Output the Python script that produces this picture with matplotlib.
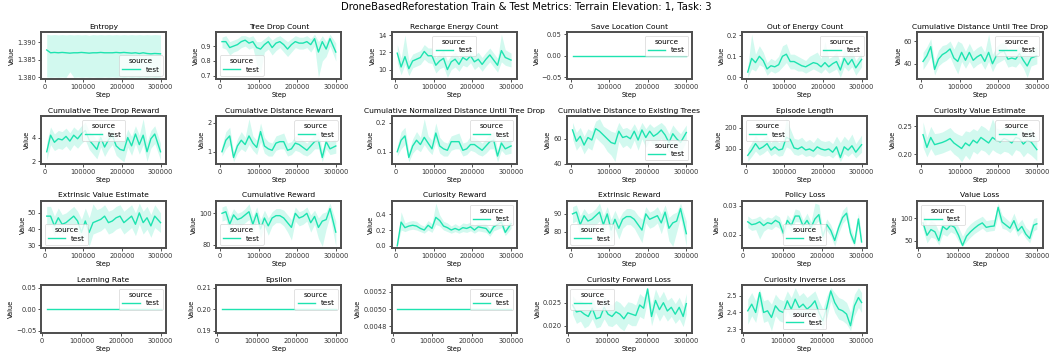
import matplotlib
matplotlib.use("Agg")
import matplotlib.pyplot as plt
from matplotlib.ticker import MultipleLocator

# ---- data ----
EVAL_STEPS = [5000, 15000, 25000, 35000, 45000, 55000, 65000, 75000, 85000, 95000,
              105000, 115000, 125000, 135000, 145000, 155000, 165000, 175000, 185000, 195000,
              205000, 215000, 225000, 235000, 245000, 255000, 265000, 275000, 285000, 300000]
LOSS_STEPS = [12000, 22000, 32000, 42000, 52000, 62000, 72000, 82000, 92000, 102000,
              112000, 122000, 132000, 142000, 152000, 162000, 172000, 182000, 192000, 202000,
              212000, 222000, 232000, 242000, 252000, 262000, 272000, 282000, 292000, 300000]
CONST_EVAL_STEPS = [5000, 300000]
CONST_LOSS_STEPS = [12000, 300000]

ENT = [1.3878, 1.3870, 1.3871, 1.3870, 1.3871, 1.3870, 1.3869, 1.3870, 1.3870, 1.3871,
       1.3870, 1.3869, 1.3870, 1.3870, 1.3871, 1.3870, 1.3870, 1.3870, 1.3871, 1.3870,
       1.3871, 1.3870, 1.3869, 1.3870, 1.3868, 1.3870, 1.3868, 1.3867, 1.3868, 1.3867]
ENT_LO = [1.3801, 1.3800, 1.3801, 1.3800, 1.3801, 1.3800, 1.3816, 1.3800, 1.3801, 1.3800,
          1.3801, 1.3800, 1.3801, 1.3800, 1.3800, 1.3801, 1.3800, 1.3801, 1.3800, 1.3801,
          1.3800, 1.3801, 1.3800, 1.3801, 1.3800, 1.3801, 1.3800, 1.3801, 1.3800, 1.3801]
ENT_HI = [1.3923, 1.3921, 1.3922, 1.3921, 1.3922, 1.3921, 1.3922, 1.3921, 1.3922, 1.3921,
          1.3922, 1.3920, 1.3922, 1.3921, 1.3922, 1.3921, 1.3922, 1.3921, 1.3922, 1.3921,
          1.3922, 1.3921, 1.3922, 1.3921, 1.3922, 1.3921, 1.3922, 1.3921, 1.3922, 1.3921]

TDC = [0.93, 0.93, 0.89, 0.90, 0.91, 0.93, 0.94, 0.92, 0.93, 0.89, 0.88, 0.91, 0.93, 0.89, 0.92,
       0.93, 0.91, 0.88, 0.91, 0.93, 0.92, 0.92, 0.93, 0.91, 0.95, 0.86, 0.93, 0.88, 0.95, 0.86]
TDC_LO = [0.89, 0.88, 0.84, 0.86, 0.87, 0.89, 0.90, 0.88, 0.89, 0.78, 0.72, 0.86, 0.88, 0.84, 0.87,
          0.89, 0.86, 0.83, 0.86, 0.89, 0.88, 0.88, 0.89, 0.86, 0.90, 0.69, 0.80, 0.83, 0.90, 0.80]
TDC_HI = [0.96, 0.97, 0.93, 0.94, 0.95, 0.97, 0.97, 0.96, 0.97, 0.93, 0.93, 0.95, 0.97, 0.94, 0.96,
          0.97, 0.95, 0.93, 0.95, 0.97, 0.96, 0.96, 0.97, 0.95, 0.98, 0.93, 0.97, 0.93, 0.98, 0.92]

REC = [11.9, 10.3, 11.5, 10.1, 11.0, 11.2, 11.4, 12.1, 11.6, 11.6, 10.5, 11.0, 11.3, 10.0, 10.9,
       11.2, 10.6, 11.4, 11.1, 11.6, 10.9, 11.2, 10.6, 11.2, 11.7, 11.1, 10.5, 12.2, 11.4, 11.1]
REC_LO = [10.8, 9.4, 10.6, 9.3, 10.2, 10.4, 10.6, 11.2, 10.8, 10.7, 9.6, 10.1, 10.3, 9.1, 10.0,
          10.3, 9.8, 10.5, 10.3, 10.8, 10.0, 10.4, 9.8, 10.4, 10.9, 10.3, 9.7, 10.9, 10.5, 10.3]
REC_HI = [12.9, 11.3, 14.0, 11.0, 11.8, 12.0, 12.2, 12.9, 12.5, 12.5, 11.4, 11.9, 12.3, 11.0, 11.7,
          12.0, 11.4, 12.3, 11.9, 12.4, 11.7, 12.0, 11.4, 12.0, 12.5, 11.9, 11.3, 14.1, 12.3, 11.9]

SAVE = [0.0, 0.0]

OOE = [0.025, 0.09, 0.07, 0.10, 0.08, 0.04, 0.055, 0.05, 0.06, 0.10, 0.11, 0.075, 0.075, 0.065, 0.055,
       0.05, 0.06, 0.07, 0.065, 0.05, 0.07, 0.05, 0.065, 0.075, 0.035, 0.09, 0.06, 0.085, 0.045, 0.085]
OOE_LO = [0.0, 0.04, 0.03, 0.06, 0.05, 0.01, 0.03, 0.02, 0.03, 0.05, 0.07, 0.04, 0.04, 0.03, 0.03,
          0.02, 0.03, 0.04, 0.03, 0.02, 0.04, 0.02, 0.03, 0.04, 0.0, 0.05, 0.03, 0.05, 0.01, 0.05]
OOE_HI = [0.05, 0.205, 0.11, 0.15, 0.12, 0.07, 0.09, 0.08, 0.10, 0.15, 0.16, 0.11, 0.11, 0.10, 0.09,
          0.08, 0.10, 0.11, 0.12, 0.09, 0.17, 0.09, 0.10, 0.12, 0.07, 0.14, 0.10, 0.13, 0.08, 0.12]

CDT = [42, 47, 55, 35, 44, 48, 50, 53, 45, 42, 50, 43, 50, 43, 46,
       48, 42, 50, 40, 47, 50, 51, 44, 45, 44, 49, 43, 38, 45, 47]
CDT_LO = [35, 40, 46, 30, 38, 41, 43, 46, 38, 31, 42, 36, 42, 36, 39,
          41, 35, 42, 33, 40, 42, 44, 37, 38, 37, 41, 36, 28, 38, 40]
CDT_HI = [50, 55, 62, 42, 52, 56, 57, 60, 53, 60, 58, 51, 58, 51, 54,
          56, 50, 66, 48, 55, 58, 59, 52, 53, 52, 57, 51, 48, 53, 55]

CTR = [2.8, 4.2, 3.6, 3.9, 3.8, 4.1, 3.7, 4.2, 3.9, 4.3, 4.6, 3.8, 3.4, 3.0, 4.0,
       3.2, 3.8, 4.2, 3.3, 3.0, 2.9, 4.0, 3.3, 4.3, 3.4, 4.2, 2.8, 3.9, 4.3, 2.8]
CTR_LO = [2.1, 3.4, 2.9, 3.1, 3.0, 3.3, 2.9, 3.4, 3.1, 3.5, 3.8, 3.0, 2.6, 2.2, 3.2,
          2.4, 3.0, 3.4, 2.5, 2.2, 1.95, 3.2, 2.5, 3.5, 2.6, 3.4, 2.0, 3.1, 3.5, 2.1]
CTR_HI = [3.6, 4.9, 4.3, 4.6, 4.5, 4.8, 4.4, 4.9, 4.6, 5.0, 5.3, 4.5, 4.2, 3.8, 4.7,
          4.0, 4.6, 4.9, 4.1, 3.8, 3.7, 4.7, 4.1, 5.0, 4.2, 5.6, 3.6, 4.6, 5.0, 3.5]

CDR = [1.0, 1.4, 1.55, 0.8, 1.2, 1.4, 1.25, 1.55, 1.3, 1.15, 1.7, 1.2, 1.1, 1.05, 1.3,
       1.35, 1.35, 1.05, 1.1, 1.3, 1.25, 1.15, 1.05, 1.2, 1.35, 1.4, 0.8, 1.35, 1.1, 1.2]
CDR_LO = [0.85, 1.1, 1.25, 0.65, 0.95, 1.1, 1.0, 1.25, 1.05, 0.9, 1.35, 0.95, 0.85, 0.85, 1.05,
          1.1, 1.1, 0.85, 0.9, 1.05, 1.0, 0.9, 0.85, 0.95, 1.1, 1.1, 0.65, 1.1, 0.9, 0.95]
CDR_HI = [1.2, 1.7, 1.85, 1.0, 1.45, 1.7, 1.5, 2.15, 1.55, 1.4, 2.0, 1.5, 1.35, 1.3, 1.55,
          1.6, 1.65, 1.3, 1.35, 1.55, 1.5, 1.4, 1.3, 1.45, 1.6, 1.7, 1.05, 1.6, 1.35, 1.45]

NDT = [0.10, 0.14, 0.155, 0.08, 0.12, 0.14, 0.125, 0.15, 0.13, 0.11, 0.165, 0.12, 0.11, 0.105, 0.135,
       0.135, 0.135, 0.105, 0.11, 0.125, 0.125, 0.115, 0.105, 0.12, 0.135, 0.14, 0.085, 0.13, 0.11, 0.12]
NDT_LO = [0.085, 0.11, 0.125, 0.065, 0.095, 0.11, 0.10, 0.125, 0.105, 0.09, 0.135, 0.095, 0.085, 0.085, 0.105,
          0.11, 0.11, 0.085, 0.09, 0.105, 0.10, 0.09, 0.085, 0.095, 0.11, 0.11, 0.065, 0.105, 0.09, 0.095]
NDT_HI = [0.12, 0.17, 0.185, 0.10, 0.145, 0.17, 0.15, 0.215, 0.155, 0.14, 0.20, 0.15, 0.135, 0.13, 0.155,
          0.16, 0.165, 0.13, 0.135, 0.155, 0.15, 0.14, 0.13, 0.145, 0.16, 0.17, 0.105, 0.16, 0.135, 0.145]

DET = [67, 58, 62, 55, 61, 59, 68, 66, 63, 60, 57, 56, 66, 61, 62,
       60, 66, 59, 67, 61, 66, 62, 64, 67, 63, 57, 64, 60, 57, 65]
DET_LO = [60, 51, 55, 48, 53, 51, 61, 58, 55, 50, 47, 42, 58, 53, 55,
          52, 59, 51, 60, 53, 59, 55, 57, 60, 56, 49, 56, 52, 49, 58]
DET_HI = [73, 65, 69, 62, 68, 66, 74, 76, 70, 68, 66, 65, 73, 68, 69,
          67, 72, 66, 73, 68, 72, 69, 71, 73, 70, 64, 71, 67, 64, 71]

EPL = [70, 95, 125, 100, 110, 125, 95, 110, 95, 100, 155, 145, 105, 100, 110,
       95, 100, 90, 110, 100, 95, 100, 85, 110, 60, 110, 95, 115, 85, 120]
EPL_LO = [42, 65, 90, 70, 80, 95, 68, 80, 66, 70, 110, 100, 75, 70, 78,
          65, 70, 62, 78, 70, 66, 70, 58, 78, 40, 78, 65, 82, 58, 85]
EPL_HI = [100, 130, 165, 135, 150, 165, 130, 150, 130, 140, 242, 195, 150, 145, 155,
          135, 145, 130, 155, 140, 135, 140, 125, 160, 130, 160, 140, 170, 125, 165]

CVE = [0.235, 0.212, 0.23, 0.217, 0.219, 0.221, 0.224, 0.228, 0.22, 0.215, 0.21, 0.22, 0.215, 0.225, 0.22,
       0.23, 0.225, 0.22, 0.23, 0.225, 0.222, 0.228, 0.225, 0.22, 0.23, 0.228, 0.218, 0.225, 0.222, 0.208]
CVE_LO = [0.212, 0.195, 0.21, 0.198, 0.2, 0.202, 0.205, 0.208, 0.2, 0.195, 0.186, 0.198, 0.19, 0.205, 0.2,
          0.208, 0.205, 0.198, 0.208, 0.203, 0.2, 0.205, 0.203, 0.197, 0.208, 0.205, 0.195, 0.203, 0.198, 0.188]
CVE_HI = [0.258, 0.23, 0.25, 0.237, 0.238, 0.24, 0.244, 0.248, 0.24, 0.236, 0.233, 0.242, 0.24, 0.246, 0.242,
          0.252, 0.248, 0.242, 0.264, 0.247, 0.244, 0.25, 0.247, 0.243, 0.252, 0.25, 0.24, 0.247, 0.245, 0.23]

EVE = [48, 48, 42, 47, 43, 44, 46, 48, 45, 38, 45, 38, 44, 45, 46,
       48, 44, 45, 47, 48, 44, 46, 48, 43, 50, 44, 47, 42, 48, 44]
EVE_LO = [42, 42, 36, 41, 37, 38, 40, 42, 39, 31, 36, 29.5, 37, 38, 39,
          41, 37, 38, 40, 41, 37, 39, 41, 36, 43, 37, 40, 35, 41, 38]
EVE_HI = [54, 54, 48, 53, 49, 50, 52, 54, 51, 46, 53, 47, 55.5, 52, 53,
          55, 51, 52, 54, 55, 51, 53, 55, 50, 56, 51, 54, 49, 55, 50]

CRW = [100, 101, 93, 99, 96, 97, 99, 101, 93, 100, 90, 97, 92, 97, 98.5,
       98.5, 97, 94, 91, 100, 97, 98, 100, 94, 98, 91, 95, 96, 103, 88]
CRW_LO = [95, 96, 87, 94, 91, 92, 94, 96, 87, 95, 84, 92, 86, 92, 94,
          94, 92, 88, 83, 95, 92, 93, 95, 88, 93, 84, 79, 90, 98, 79]
CRW_HI = [104, 105, 98, 103, 100, 101, 103, 106, 98, 104, 96, 102, 97, 101, 103,
          103, 102, 99, 96, 104, 101, 102, 104, 99, 102, 97, 100, 101, 106.5, 95]

CRD = [0.0, 0.3, 0.23, 0.25, 0.26, 0.25, 0.22, 0.2, 0.26, 0.22, 0.36, 0.32, 0.25, 0.23, 0.2,
       0.22, 0.2, 0.23, 0.22, 0.24, 0.2, 0.24, 0.23, 0.22, 0.16, 0.24, 0.27, 0.3, 0.17, 0.28]
CRD_LO = [-0.005, 0.2, 0.18, 0.2, 0.21, 0.2, 0.18, 0.16, 0.2, 0.17, 0.27, 0.25, 0.2, 0.18, 0.16,
          0.18, 0.16, 0.18, 0.17, 0.19, 0.16, 0.19, 0.18, 0.17, 0.12, 0.19, 0.21, 0.23, 0.13, 0.22]
CRD_HI = [0.01, 0.43, 0.29, 0.31, 0.32, 0.31, 0.27, 0.25, 0.32, 0.28, 0.54, 0.39, 0.31, 0.29, 0.25,
          0.28, 0.25, 0.29, 0.28, 0.3, 0.26, 0.3, 0.29, 0.28, 0.22, 0.3, 0.34, 0.38, 0.23, 0.35]

EXR = [90, 91, 84, 89, 86, 87, 89, 91, 84, 90, 81, 87, 82, 87, 88.5,
       88.5, 87, 84, 81, 90, 87, 88, 89, 85, 91, 82, 85, 86, 93, 79]
EXR_LO = [85, 86, 78, 84, 81, 82, 84, 86, 78, 85, 75, 82, 76, 82, 84,
          84, 82, 78, 74, 85, 82, 83, 85, 79, 86, 75, 72, 80, 88, 72]
EXR_HI = [94, 95, 89, 93, 90, 91, 93, 96, 89, 94, 87, 92, 87, 91, 93,
          93, 92, 89, 87, 94, 91, 92, 94, 90, 95, 88, 90, 91, 96, 86]

POL = [0.0245, 0.0235, 0.0238, 0.0245, 0.0232, 0.0242, 0.0238, 0.0250, 0.0242, 0.0205,
       0.0250, 0.0232, 0.0265, 0.0265, 0.0230, 0.0250, 0.0225, 0.0255, 0.0270, 0.0195,
       0.0235, 0.0215, 0.0180, 0.0225, 0.0260, 0.0275, 0.0205, 0.0170, 0.0255, 0.0175]
POL_LO = [0.0225, 0.0215, 0.0218, 0.0185, 0.0212, 0.0222, 0.0218, 0.0230, 0.0222, 0.0185,
          0.0230, 0.0212, 0.0245, 0.0245, 0.0210, 0.0230, 0.0205, 0.0235, 0.0250, 0.0175,
          0.0215, 0.0195, 0.0160, 0.0205, 0.0240, 0.0255, 0.0185, 0.0160, 0.0235, 0.0165]
POL_HI = [0.0265, 0.0255, 0.0258, 0.0265, 0.0252, 0.0262, 0.0258, 0.0270, 0.0262, 0.0225,
          0.0270, 0.0252, 0.0290, 0.0285, 0.0250, 0.0275, 0.0245, 0.0310, 0.0305, 0.0215,
          0.0255, 0.0235, 0.0200, 0.0245, 0.0285, 0.0300, 0.0225, 0.0190, 0.0275, 0.0195]

VAL = [90, 62, 75, 70, 50, 82, 75, 85, 80, 62, 39, 60, 70, 78, 85,
       90, 80, 82, 83, 125, 92, 85, 78, 95, 72, 82, 65, 55, 85, 88]
VAL_LO = [75, 45, 58, 55, 40, 65, 60, 70, 65, 48, 37.5, 48, 58, 66, 72,
          78, 70, 72, 73, 105, 78, 75, 68, 80, 60, 70, 55, 45, 72, 76]
VAL_HI = [115, 85, 95, 90, 70, 100, 92, 102, 97, 80, 60, 78, 88, 95, 100,
          105, 95, 97, 98, 134.5, 108, 100, 92, 112, 88, 98, 80, 72, 100, 102]

LR = [0.0, 0.0]
EPS = [0.2, 0.2]
BETA = [0.005, 0.005]

CFL = [0.0245, 0.0230, 0.0232, 0.0225, 0.0220, 0.0238, 0.0215, 0.0218, 0.0240, 0.0225,
       0.0220, 0.0230, 0.0225, 0.0215, 0.0228, 0.0225, 0.0222, 0.0245, 0.0238, 0.0280,
       0.0220, 0.0255, 0.0235, 0.0250, 0.0232, 0.0240, 0.0225, 0.0240, 0.0220, 0.0248]
CFL_LO = [0.0225, 0.0205, 0.0210, 0.0195, 0.0200, 0.0215, 0.0195, 0.0198, 0.0215, 0.0200,
          0.0198, 0.0205, 0.0195, 0.0189, 0.0205, 0.0200, 0.0200, 0.0220, 0.0215, 0.0255,
          0.0200, 0.0230, 0.0210, 0.0225, 0.0210, 0.0220, 0.0205, 0.0215, 0.0198, 0.0225]
CFL_HI = [0.0265, 0.0255, 0.0255, 0.0250, 0.0245, 0.0262, 0.0238, 0.0240, 0.0265, 0.0250,
          0.0245, 0.0255, 0.0250, 0.0240, 0.0252, 0.0250, 0.0245, 0.0270, 0.0262, 0.0283,
          0.0245, 0.0280, 0.0260, 0.0275, 0.0255, 0.0262, 0.0248, 0.0262, 0.0242, 0.0270]

CIL = [2.41, 2.45, 2.40, 2.52, 2.40, 2.41, 2.37, 2.44, 2.41, 2.40, 2.47, 2.42, 2.48, 2.43, 2.45,
       2.42, 2.44, 2.47, 2.40, 2.35, 2.43, 2.53, 2.46, 2.42, 2.41, 2.39, 2.32, 2.44, 2.49, 2.46]
CIL_LO = [2.33, 2.38, 2.34, 2.45, 2.34, 2.35, 2.29, 2.38, 2.35, 2.34, 2.41, 2.36, 2.42, 2.37, 2.39,
          2.36, 2.38, 2.41, 2.34, 2.30, 2.37, 2.47, 2.40, 2.36, 2.35, 2.33, 2.29, 2.38, 2.43, 2.40]
CIL_HI = [2.48, 2.52, 2.47, 2.54, 2.47, 2.48, 2.45, 2.51, 2.48, 2.47, 2.53, 2.49, 2.55, 2.50, 2.52,
          2.49, 2.51, 2.53, 2.47, 2.42, 2.50, 2.55, 2.52, 2.49, 2.48, 2.46, 2.40, 2.51, 2.55, 2.52]

# y tick positions shown on each panel
ENT_TICKS = [1.380, 1.385, 1.390]
TDC_TICKS = [0.7, 0.8, 0.9]
REC_TICKS = [10, 12, 14]
SAVE_TICKS = [-0.05, 0.0, 0.05]
OOE_TICKS = [0.0, 0.1, 0.2]
CDT_TICKS = [40, 60]
CTR_TICKS = [2, 4]
CDR_TICKS = [1, 2]
NDT_TICKS = [0.1, 0.2]
DET_TICKS = [40, 60]
EPL_TICKS = [100, 200]
CVE_TICKS = [0.20, 0.25]
EVE_TICKS = [30, 40, 50]
CRW_TICKS = [80, 100]
CRD_TICKS = [0.0, 0.2, 0.4]
EXR_TICKS = [80, 90]
POL_TICKS = [0.02, 0.03]
VAL_TICKS = [50, 100]
LR_TICKS = [-0.05, 0.0, 0.05]
EPS_TICKS = [0.19, 0.20, 0.21]
BETA_TICKS = [0.0048, 0.0050, 0.0052]
CFL_TICKS = [0.020, 0.025]
CIL_TICKS = [2.3, 2.4, 2.5]

COLOR = "#1ee3b0"
FIG_TITLE = "DroneBasedReforestation Train & Test Metrics: Terrain Elevation: 1, Task: 3"

# (title, steps, mean, lo, hi, y ticks, legend location)
PANELS = [
    ("Entropy", EVAL_STEPS, ENT, ENT_LO, ENT_HI, ENT_TICKS, "lower right"),
    ("Tree Drop Count", EVAL_STEPS, TDC, TDC_LO, TDC_HI, TDC_TICKS, "lower left"),
    ("Recharge Energy Count", EVAL_STEPS, REC, REC_LO, REC_HI, REC_TICKS, "upper center"),
    ("Save Location Count", CONST_EVAL_STEPS, SAVE, None, None, SAVE_TICKS, "upper right"),
    ("Out of Energy Count", EVAL_STEPS, OOE, OOE_LO, OOE_HI, OOE_TICKS, "upper right"),
    ("Cumulative Distance Until Tree Drop", EVAL_STEPS, CDT, CDT_LO, CDT_HI, CDT_TICKS, "upper right"),
    ("Cumulative Tree Drop Reward", EVAL_STEPS, CTR, CTR_LO, CTR_HI, CTR_TICKS, "upper center"),
    ("Cumulative Distance Reward", EVAL_STEPS, CDR, CDR_LO, CDR_HI, CDR_TICKS, "upper right"),
    ("Cumulative Normalized Distance Until Tree Drop", EVAL_STEPS, NDT, NDT_LO, NDT_HI, NDT_TICKS, "upper right"),
    ("Cumulative Distance to Existing Trees", EVAL_STEPS, DET, DET_LO, DET_HI, DET_TICKS, "lower right"),
    ("Episode Length", EVAL_STEPS, EPL, EPL_LO, EPL_HI, EPL_TICKS, "upper left"),
    ("Curiosity Value Estimate", EVAL_STEPS, CVE, CVE_LO, CVE_HI, CVE_TICKS, "upper right"),
    ("Extrinsic Value Estimate", EVAL_STEPS, EVE, EVE_LO, EVE_HI, EVE_TICKS, "lower left"),
    ("Cumulative Reward", EVAL_STEPS, CRW, CRW_LO, CRW_HI, CRW_TICKS, "lower left"),
    ("Curiosity Reward", EVAL_STEPS, CRD, CRD_LO, CRD_HI, CRD_TICKS, "upper right"),
    ("Extrinsic Reward", EVAL_STEPS, EXR, EXR_LO, EXR_HI, EXR_TICKS, "lower left"),
    ("Policy Loss", LOSS_STEPS, POL, POL_LO, POL_HI, POL_TICKS, "lower center"),
    ("Value Loss", LOSS_STEPS, VAL, VAL_LO, VAL_HI, VAL_TICKS, "upper left"),
    ("Learning Rate", CONST_LOSS_STEPS, LR, None, None, LR_TICKS, "upper right"),
    ("Epsilon", CONST_LOSS_STEPS, EPS, None, None, EPS_TICKS, "upper right"),
    ("Beta", CONST_LOSS_STEPS, BETA, None, None, BETA_TICKS, "upper right"),
    ("Curiosity Forward Loss", LOSS_STEPS, CFL, CFL_LO, CFL_HI, CFL_TICKS, "upper left"),
    ("Curiosity Inverse Loss", LOSS_STEPS, CIL, CIL_LO, CIL_HI, CIL_TICKS, "lower center"),
]

plt.rcParams["font.family"] = "DejaVu Sans"
plt.rcParams["axes.edgecolor"] = "#4d4d4d"
plt.rcParams["axes.linewidth"] = 1.4
plt.rcParams["xtick.major.size"] = 2
plt.rcParams["ytick.major.size"] = 2
plt.rcParams["xtick.major.width"] = 0.6
plt.rcParams["ytick.major.width"] = 0.6
plt.rcParams["xtick.major.pad"] = 1.5
plt.rcParams["ytick.major.pad"] = 1.5
plt.rcParams["xtick.labelsize"] = 4.8
plt.rcParams["ytick.labelsize"] = 4.8
plt.rcParams["axes.labelsize"] = 4.8
plt.rcParams["axes.labelpad"] = 1.5
plt.rcParams["axes.titlesize"] = 5.4
plt.rcParams["axes.titlepad"] = 2.5

fig, axes = plt.subplots(4, 6, figsize=(10.52, 3.56), dpi=100)
fig.subplots_adjust(left=0.039, right=0.991, top=0.91, bottom=0.065, wspace=0.40, hspace=0.78)

for ax, (title, steps, mean, lo, hi, yticks, loc) in zip(axes.flat, PANELS):
    if lo is not None:
        ax.fill_between(steps, lo, hi, color=COLOR, alpha=0.2, linewidth=0)
    ax.plot(steps, mean, color=COLOR, linewidth=1.0, label="test")
    ax.set_title(title)
    ax.set_xlabel("Step")
    ax.set_ylabel("Value")
    ax.xaxis.set_major_locator(MultipleLocator(100000))
    ax.set_yticks(yticks)
    ax.tick_params(colors="#333333")
    leg = ax.legend(title="source", loc=loc, fontsize=5.2, title_fontsize=5.2,
                    handlelength=2.4, borderpad=0.45, labelspacing=0.3)
    leg.get_frame().set_linewidth(0.5)

axes.flat[-1].axis("off")

fig.suptitle(FIG_TITLE, fontsize=7.2, y=0.995, va="top")
fig.savefig("out.png", dpi=100)
